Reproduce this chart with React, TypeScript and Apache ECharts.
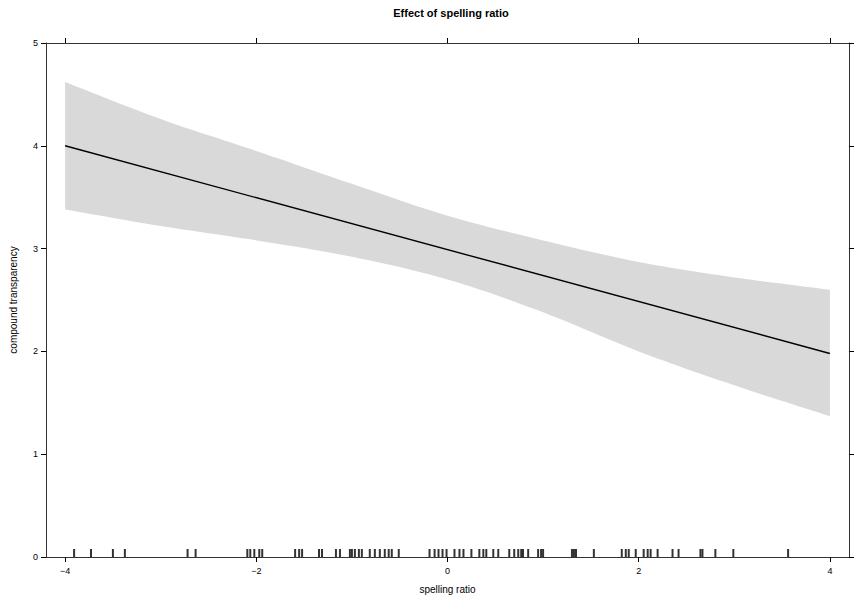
import React, { useEffect, useRef } from "react";
import * as echarts from "echarts";

const bandX = [-4, -3, -2, -1, 0, 1, 2, 3, 4];
const bandLower = [3.38, 3.22, 3.08, 2.92, 2.7, 2.38, 2.0, 1.67, 1.37];
const bandUpper = [4.62, 4.26, 3.95, 3.63, 3.32, 3.08, 2.87, 2.72, 2.6];
const fitX = [-4, 4];
const fitY = [4.0, 1.98];
const rugX = [
  -3.906, -3.729, -3.5, -3.375, -2.719, -2.635, -2.094, -2.063, -2.021, -1.969,
  -1.938, -1.594, -1.552, -1.521, -1.344, -1.313, -1.167, -1.125, -1.021, -1.0,
  -0.969, -0.927, -0.896, -0.813, -0.76, -0.708, -0.656, -0.615, -0.583, -0.51,
  -0.188, -0.135, -0.094, -0.052, -0.01, 0.073, 0.125, 0.167, 0.25, 0.333, 0.375,
  0.406, 0.479, 0.531, 0.646, 0.698, 0.74, 0.771, 0.79, 0.844, 0.948, 0.979, 1.0,
  1.302, 1.323, 1.344, 1.531, 1.823, 1.865, 1.896, 1.969, 2.052, 2.094, 2.125,
  2.198, 2.354, 2.417, 2.646, 2.667, 2.802, 2.99, 3.563,
];
const xTicks = [-4, -2, 0, 2, 4];

const FONT = "'Liberation Sans', Arial, sans-serif";
const AXIS_COLOR = "#333";

// Catmull-Rom smoothing of pixel points (rendering only)
function smoothPixels(pts: number[][], steps: number): number[][] {
  const out: number[][] = [];
  const n = pts.length;
  for (let i = 0; i < n - 1; i++) {
    const p0 = pts[Math.max(0, i - 1)];
    const p1 = pts[i];
    const p2 = pts[i + 1];
    const p3 = pts[Math.min(n - 1, i + 2)];
    for (let s = 0; s < steps; s++) {
      const t = s / steps;
      const t2 = t * t;
      const t3 = t2 * t;
      const f = (a: number, b: number, c: number, d: number) =>
        0.5 *
        (2 * b + (-a + c) * t + (2 * a - 5 * b + 4 * c - d) * t2 + (-a + 3 * b - 3 * c + d) * t3);
      out.push([f(p0[0], p1[0], p2[0], p3[0]), f(p0[1], p1[1], p2[1], p3[1])]);
    }
  }
  out.push(pts[n - 1]);
  return out;
}

export default function App() {
  const ref = useRef<HTMLDivElement>(null);
  useEffect(() => {
    document.body.style.margin = "0";
    if (!ref.current) return;
    const chart = echarts.init(ref.current, null, { renderer: "svg" });
    const fmt = (v: number) => String(v).replace("-", "\u2212");
    const xBase = {
      type: "value" as const,
      min: -4.2,
      max: 4.2,
      z: 10,
      splitLine: { show: false },
      axisLine: { onZero: false, lineStyle: { color: AXIS_COLOR, width: 1 } },
      axisTick: {
        inside: false,
        length: 5,
        customValues: xTicks,
        lineStyle: { color: "#000" },
      },
    };
    const yBase = {
      type: "value" as const,
      min: 0,
      max: 5,
      interval: 1,
      z: 10,
      splitLine: { show: false },
      axisLine: { onZero: false, lineStyle: { color: AXIS_COLOR, width: 1 } },
      axisTick: { inside: false, length: 5, lineStyle: { color: "#000" } },
    };
    chart.setOption({
      animation: false,
      backgroundColor: "#fff",
      title: {
        text: "Effect of spelling ratio",
        left: 446,
        textAlign: "center",
        top: 2,
        textStyle: { fontFamily: FONT, fontSize: 11, fontWeight: "bold", color: "#000" },
      },
      grid: { left: 43, right: 5, top: 43, bottom: 39 },
      xAxis: [
        {
          ...xBase,
          position: "bottom",
          name: "spelling ratio",
          nameLocation: "middle",
          nameGap: 27,
          nameTextStyle: { fontFamily: FONT, fontSize: 10, color: "#000" },
          axisLabel: {
            customValues: xTicks,
            formatter: fmt,
            fontFamily: FONT,
            fontSize: 9,
            color: "#000",
            margin: 9,
          },
        },
        {
          ...xBase,
          position: "top",
          axisLabel: { show: false },
        },
      ],
      yAxis: [
        {
          ...yBase,
          position: "left",
          name: "compound transparency",
          nameLocation: "middle",
          nameGap: 28,
          nameTextStyle: { fontFamily: FONT, fontSize: 10, color: "#000" },
          axisLabel: { fontFamily: FONT, fontSize: 9, color: "#000", margin: 8 },
        },
        {
          ...yBase,
          position: "right",
          axisLabel: { show: false },
        },
      ],
      series: [
        {
          type: "custom",
          data: bandX.map((x, i) => [x, bandLower[i], bandUpper[i]]),
          silent: true,
          z: 1,
          renderItem: (params: any, api: any) => {
            if (params.dataIndex !== 0) return null;
            const top = smoothPixels(
              bandX.map((x, i) => api.coord([x, bandUpper[i]])),
              12
            );
            const bottom = smoothPixels(
              bandX.map((x, i) => api.coord([x, bandLower[i]])),
              12
            ).reverse();
            return {
              type: "polygon",
              shape: { points: top.concat(bottom) },
              style: { fill: "#d9d9d9" },
            };
          },
        },
        {
          type: "line",
          data: fitX.map((x, i) => [x, fitY[i]]),
          symbol: "none",
          lineStyle: { color: "#000", width: 1.4 },
          z: 3,
        },
        {
          type: "scatter",
          data: rugX.map((x) => [x, 0]),
          symbol: "rect",
          symbolSize: [2, 8],
          symbolOffset: [0, -4],
          itemStyle: { color: "#000" },
          clip: false,
          z: 4,
        },
      ],
    });
    return () => chart.dispose();
  }, []);
  return <div ref={ref} style={{ width: 854, height: 599 }} />;
}
